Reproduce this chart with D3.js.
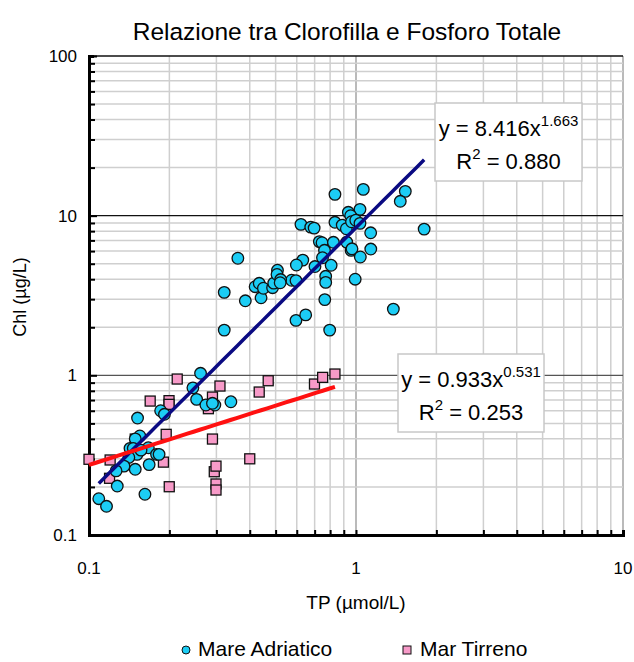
<!DOCTYPE html>
<html><head><meta charset="utf-8">
<script src="https://cdn.jsdelivr.net/npm/d3@7"></script>
<style>
body{margin:0;background:#fff;}
text{font-family:"Liberation Sans",Arial,sans-serif;fill:#000;}
</style></head><body>
<svg id="c" width="634" height="662"></svg>
<script>
// ---- data ----
const adriaticTP = [0.834,1.065,1.53,1.465,0.936,1.035,0.955,0.622,0.677,0.697,0.834,0.888,0.920,0.962,0.998,1.035,1.135,1.80,0.729,0.746,0.823,0.923,0.762,0.959,0.966,1.136,1.038,0.632,0.598,0.749,0.702,0.807,0.574,0.596,0.770,0.770,0.993,0.764,0.596,0.648,1.38,0.797,0.361,0.321,0.321,0.385,0.441,0.419,0.434,0.450,0.487,0.492,0.508,0.506,0.522,0.520,0.2617,0.245,0.253,0.274,0.296,0.290,0.340,0.1855,0.1917,0.152,0.155,0.149,0.1424,0.1465,0.1668,0.1513,0.1566,0.141,0.179,0.183,0.1352,0.1263,0.149,0.168,0.1276,0.162,0.1088,0.1163];
const adriaticChl = [13.6,14.6,14.2,12.3,10.5,10.95,9.99,8.82,8.48,8.36,9.09,8.73,8.28,9.16,9.36,8.95,7.81,8.24,6.88,6.77,6.81,6.83,6.07,6.06,6.20,6.18,5.51,5.27,4.91,5.45,4.80,4.89,3.94,3.92,4.17,3.82,4.00,2.98,2.21,2.39,2.60,1.92,5.41,3.31,1.92,2.93,3.06,3.59,3.77,3.51,3.54,3.78,4.55,4.28,3.98,3.80,1.03,0.835,0.707,0.652,0.652,0.668,0.683,0.600,0.570,0.540,0.417,0.400,0.349,0.349,0.352,0.320,0.340,0.306,0.320,0.320,0.270,0.252,0.258,0.276,0.2026,0.180,0.1688,0.1513];
const tirrenoTP = [0.1,0.120,0.1194,0.149,0.214,0.1695,0.1994,0.1994,0.1946,0.190,0.1998,0.3094,0.290,0.280,0.290,0.2946,0.299,0.299,0.299,0.400,0.434,0.469,0.699,0.750,0.834];
const tirrenoChl = [0.298,0.295,0.2265,0.399,0.948,0.690,0.694,0.658,0.427,0.286,0.2006,0.857,0.731,0.618,0.399,0.249,0.270,0.2087,0.1913,0.300,0.786,0.925,0.882,0.971,1.019];
const fitAdriatico = {a:8.416, b:1.663, r2:"0.880"};
const fitTirreno = {a:0.933, b:0.531, r2:"0.253"};
const xTickLabels = [0.1,1,10];
const yTickLabels = [0.1,1,10,100];
const seriesNames = ["Mare Adriatico","Mar Tirreno"];
const title = "Relazione tra Clorofilla e Fosforo Totale";
const xTitle = "TP (µmol/L)";
const yTitle = "Chl (µg/L)";

// ---- chart ----
const svg = d3.select("#c");
const L=89,R=623,T=56,B=535;
const x = d3.scaleLog().domain([0.1,10]).range([L,R]);
const y = d3.scaleLog().domain([0.1,100]).range([B,T]);

const xAll=[],yAll=[];
for (let e=-1;e<1;e++) for (let m=1;m<10;m++) xAll.push(+(m*Math.pow(10,e)).toPrecision(3));
xAll.push(10);
for (let e=-1;e<2;e++) for (let m=1;m<10;m++) yAll.push(+(m*Math.pow(10,e)).toPrecision(3));
yAll.push(100);
const isMajor = v => Math.abs(Math.log10(v)-Math.round(Math.log10(v)))<1e-6;

// grid
const g = svg.append("g");
xAll.forEach(v=>{ if (v===0.1) return;
  g.append("line").attr("x1",x(v)).attr("x2",x(v)).attr("y1",T).attr("y2",B)
   .attr("stroke", isMajor(v)?"#8c8c8c":"#cfcfcf").attr("stroke-width", isMajor(v)?1.2:1.5);
});
yAll.forEach(v=>{ if (v===0.1) return;
  const maj=isMajor(v);
  g.append("line").attr("x1",L).attr("x2",R).attr("y1",y(v)).attr("y2",y(v))
   .attr("stroke", maj?(v===1?"#555":"#111"):"#cfcfcf").attr("stroke-width", maj?1.3:1.5);
});

// axes
const xa = svg.append("g").attr("transform",`translate(0,${B})`)
  .call(d3.axisBottom(x).tickValues(xAll).tickSize(-5).tickFormat(""));
const ya = svg.append("g").attr("transform",`translate(${L},0)`)
  .call(d3.axisLeft(y).tickValues(yAll).tickSize(-5).tickFormat(""));
[xa,ya].forEach(a=>{
  a.select(".domain").attr("stroke","#000").attr("stroke-width",3);
  a.selectAll(".tick line").attr("stroke","#000").attr("stroke-width",2);
});
ya.selectAll(".tick line").attr("x2", d=>isMajor(d)?8:6);

svg.append("g").selectAll("text").data(xTickLabels).join("text")
  .attr("x",d=>x(d)).attr("y",574).attr("text-anchor","middle").attr("font-size",17).text(d=>d);
svg.append("g").selectAll("text").data(yTickLabels).join("text")
  .attr("x",77).attr("y",d=>y(d)+6).attr("text-anchor","end").attr("font-size",17).text(d=>d);

// titles
svg.append("text").attr("x",347).attr("y",40).attr("text-anchor","middle").attr("font-size",24.5).text(title);
svg.append("text").attr("x",356).attr("y",609).attr("text-anchor","middle").attr("font-size",19).text(xTitle);
svg.append("text").attr("transform","translate(26,297) rotate(-90)").attr("text-anchor","middle").attr("font-size",18).text(yTitle);

// trend lines
function fitLine(fit, xs, color, w){
  const [x0,x1]=d3.extent(xs);
  const pts=d3.range(0,41).map(i=>{const lx=Math.log10(x0)+(Math.log10(x1)-Math.log10(x0))*i/40; const xv=Math.pow(10,lx); return [x(xv), y(fit.a*Math.pow(xv,fit.b))];});
  svg.append("path").attr("d",d3.line()(pts)).attr("fill","none").attr("stroke",color).attr("stroke-width",w);
}

// points
const blue="#1ccdf5", pink="#f79ac8";
svg.append("g").selectAll("rect").data(tirrenoTP.map((v,i)=>[v,tirrenoChl[i]])).join("rect")
  .attr("x",d=>x(d[0])-5).attr("y",d=>y(d[1])-5).attr("width",10).attr("height",10)
  .attr("fill",pink).attr("stroke","#111").attr("stroke-width",1.3);
svg.append("g").selectAll("circle").data(adriaticTP.map((v,i)=>[v,adriaticChl[i]])).join("circle")
  .attr("cx",d=>x(d[0])).attr("cy",d=>y(d[1])).attr("r",5.8)
  .attr("fill",blue).attr("stroke","#111").attr("stroke-width",1.3);
fitLine(fitAdriatico, adriaticTP, "#0a0a82", 3.5);
fitLine(fitTirreno, tirrenoTP, "#ff1010", 4);

// equation boxes
function eqBox(x0,y0,w,h,fit){
  const gb=svg.append("g");
  gb.append("rect").attr("x",x0).attr("y",y0).attr("width",w).attr("height",h).attr("fill","#fff").attr("stroke","#c8c8c8").attr("stroke-width",1.5);
  const t1=gb.append("text").attr("x",x0+w/2).attr("y",y0+33).attr("text-anchor","middle").attr("font-size",22);
  t1.append("tspan").text(`y = ${fit.a.toFixed(3)}x`);
  t1.append("tspan").attr("dy",-10).attr("font-size",15).text(fit.b.toFixed(3));
  const t2=gb.append("text").attr("x",x0+w/2).attr("y",y0+66).attr("text-anchor","middle").attr("font-size",22);
  t2.append("tspan").text("R");
  t2.append("tspan").attr("dy",-10).attr("font-size",15).text("2");
  t2.append("tspan").attr("dy",10).text(` = ${fit.r2}`);
}
eqBox(435,103,147,78,fitAdriatico);
eqBox(398,354,146,78,fitTirreno);

// legend
const lg=svg.append("g");
lg.append("circle").attr("cx",186).attr("cy",650).attr("r",4).attr("fill",blue).attr("stroke","#111").attr("stroke-width",1);
lg.append("text").attr("x",198).attr("y",656).attr("font-size",21).text(seriesNames[0]);
lg.append("rect").attr("x",403).attr("y",646).attr("width",8).attr("height",8).attr("fill",pink).attr("stroke","#111").attr("stroke-width",1);
lg.append("text").attr("x",420).attr("y",656).attr("font-size",21).text(seriesNames[1]);
</script></body></html>
